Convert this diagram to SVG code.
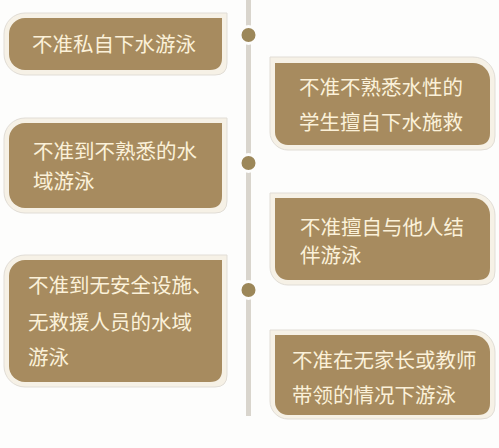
<svg xmlns="http://www.w3.org/2000/svg" width="499" height="448" viewBox="0 0 499 448">
<style>
.bg{fill:#fdfdfc}
.outer{fill:#f6f1e6;stroke:#e1ddd6;stroke-width:1}
.inner{fill:#a78b5f}
.t{font-family:"Noto Sans CJK SC","Noto Sans",sans-serif;font-size:20.5px;fill:#fbf1d9}
.line{stroke:#d9d5cd;stroke-width:5;fill:none}
.dot{fill:#9c8759;stroke:#fdfdfc;stroke-width:3}
</style>
<rect class="bg" x="0" y="0" width="499" height="448"/>
<g id="connectors">
<line class="line" x1="248.5" y1="0" x2="248.5" y2="416"/>
<circle class="dot" cx="248.5" cy="35" r="8.5"/>
<circle class="dot" cx="248.5" cy="163" r="8.5"/>
<circle class="dot" cx="248.5" cy="290" r="8.5"/>
</g>
<g id="node-l1">
<path class="outer" d="M25 13H227V63Q227 75 215 75H25A21 21 0 0 1 4 54V34A21 21 0 0 1 25 13Z"/>
<path class="inner" d="M25 18H222V58Q222 70 210 70H25A16 16 0 0 1 9 54V34A16 16 0 0 1 25 18Z"/>
<text class="t" x="32" y="52">不准私自下水游泳</text>
</g>
<g id="node-l2">
<path class="outer" d="M25 118H227V201Q227 213 215 213H25A21 21 0 0 1 4 192V139A21 21 0 0 1 25 118Z"/>
<path class="inner" d="M25 123H222V196Q222 208 210 208H25A16 16 0 0 1 9 192V139A16 16 0 0 1 25 123Z"/>
<text class="t" x="33" y="159">不准到不熟悉的水</text>
<text class="t" x="33" y="189">域游泳</text>
</g>
<g id="node-l3">
<path class="outer" d="M25 255H227V375Q227 387 215 387H25A21 21 0 0 1 4 366V276A21 21 0 0 1 25 255Z"/>
<path class="inner" d="M25 260H222V370Q222 382 210 382H25A16 16 0 0 1 9 366V276A16 16 0 0 1 25 260Z"/>
<text class="t" x="28" y="293">不准到无安全设施、</text>
<text class="t" x="28" y="330">无救援人员的水域</text>
<text class="t" x="28" y="365">游泳</text>
</g>
<g id="node-r1">
<path class="outer" d="M270 57H473A22 22 0 0 1 495 79V136Q495 150 481 150H288A18 18 0 0 1 270 132Z"/>
<path class="inner" d="M275 63H473A17 17 0 0 1 490 80V133Q490 145 478 145H288A13 13 0 0 1 275 132Z"/>
<text class="t" x="299" y="94.5">不准不熟悉水性的</text>
<text class="t" x="299" y="129.5">学生擅自下水施救</text>
</g>
<g id="node-r2">
<path class="outer" d="M270 193H473A22 22 0 0 1 495 215V271Q495 285 481 285H288A18 18 0 0 1 270 267Z"/>
<path class="inner" d="M275 198H473A17 17 0 0 1 490 215V268Q490 280 478 280H288A13 13 0 0 1 275 267Z"/>
<text class="t" x="300" y="234.5">不准擅自与他人结</text>
<text class="t" x="300" y="263">伴游泳</text>
</g>
<g id="node-r3">
<path class="outer" d="M270 330H473A22 22 0 0 1 495 352V405Q495 419 481 419H288A18 18 0 0 1 270 401Z"/>
<path class="inner" d="M275 335H473A17 17 0 0 1 490 352V403Q490 415 478 415H288A13 13 0 0 1 275 402Z"/>
<text class="t" x="292" y="368">不准在无家长或教师</text>
<text class="t" x="292" y="403">带领的情况下游泳</text>
</g>
</svg>
